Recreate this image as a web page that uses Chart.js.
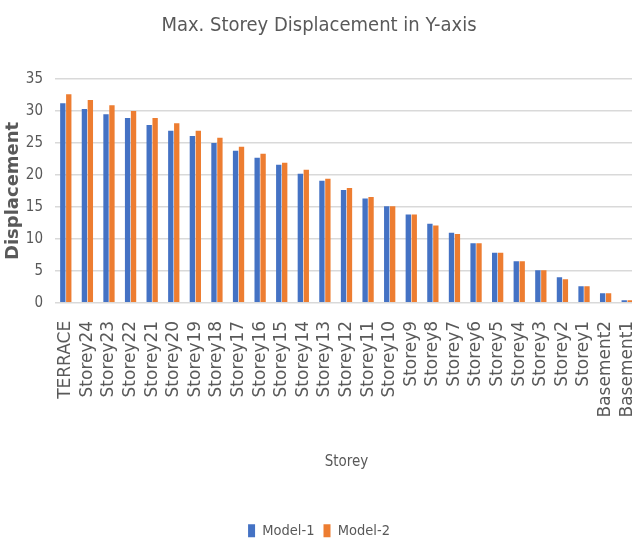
<!DOCTYPE html>
<html>
<head>
<meta charset="utf-8">
<script src="https://cdn.jsdelivr.net/npm/chart.js@4"></script>
<style>
html,body{margin:0;padding:0;background:#fff;overflow:hidden;}
#wrap{width:638px;height:543px;position:relative;}
</style>
</head>
<body>
<div id="wrap"><canvas id="c" width="638" height="543"></canvas></div>
<script>
const categories = ['TERRACE','Storey24','Storey23','Storey22','Storey21','Storey20','Storey19','Storey18','Storey17','Storey16','Storey15','Storey14','Storey13','Storey12','Storey11','Storey10','Storey9','Storey8','Storey7','Storey6','Storey5','Storey4','Storey3','Storey2','Storey1','Basement2','Basement1'];
const model1 = [31.2,30.3,29.5,28.9,27.8,26.9,26.1,25.0,23.8,22.7,21.6,20.2,19.1,17.65,16.3,15.1,13.8,12.35,10.95,9.3,7.85,6.5,5.1,4.0,2.6,1.5,0.4];
const model2 = [32.6,31.7,30.9,30.0,28.9,28.1,26.9,25.8,24.4,23.3,21.9,20.8,19.4,17.95,16.55,15.1,13.8,12.1,10.75,9.3,7.85,6.5,5.1,3.7,2.6,1.5,0.4];
const seriesNames = ['Model-1','Model-2'];
const yTicks = [0,5,10,15,20,25,30,35];

const narrow = "'DejaVu Sans Condensed', 'Roboto', sans-serif";
const grey = '#595959';

new Chart(document.getElementById('c'), {
  type: 'bar',
  data: {
    labels: categories,
    datasets: [
      {label: seriesNames[0], data: model1, backgroundColor: '#4472C4', categoryPercentage: 0.55, barPercentage: 0.9},
      {label: seriesNames[1], data: model2, backgroundColor: '#ED7D31', categoryPercentage: 0.55, barPercentage: 0.9}
    ]
  },
  options: {
    responsive: false,
    animation: false,
    layout: {padding: {left: 0, right: 0, top: 4, bottom: -5}},
    plugins: {
      title: {
        display: true,
        text: 'Max. Storey Displacement in Y-axis',
        color: grey,
        font: {family: narrow, size: 20, weight: 'normal'},
        padding: {top: 10, bottom: 41}
      },
      legend: {
        position: 'bottom',
        labels: {
          color: grey,
          font: {family: narrow, size: 14.5},
          boxWidth: 7,
          boxHeight: 13,
          padding: 9
        }
      },
      tooltip: {enabled: false}
    },
    scales: {
      x: {
        afterFit: (s) => { s.paddingLeft = 0; s.paddingRight = 0; },
        grid: {display: false, drawTicks: false},
        border: {display: true, color: '#D9D9D9', width: 1},
        ticks: {
          color: grey,
          font: {family: "'DejaVu Sans', sans-serif", size: 17},
          minRotation: 90, maxRotation: 90,
          autoSkip: false,
          padding: 18
        },
        title: {
          display: true,
          text: 'Storey',
          color: grey,
          font: {family: narrow, size: 15},
          padding: {top: 18, bottom: 43}
        }
      },
      y: {
        min: 0, max: 35,
        afterBuildTicks: (axis) => { axis.ticks = yTicks.map(v => ({value: v})); },
        afterFit: (s) => { s.width = 55; },
        grid: {color: '#D9D9D9', lineWidth: 1.5, drawTicks: false},
        border: {display: false},
        ticks: {
          color: grey,
          font: {family: narrow, size: 15},
          padding: 12
        },
        title: {
          display: true,
          text: 'Displacement',
          color: grey,
          font: {family: "'DejaVu Sans', sans-serif", size: 18, weight: 'bold'},
          padding: {top: 3, bottom: 0}
        }
      }
    }
  }
});
</script>
</body>
</html>
